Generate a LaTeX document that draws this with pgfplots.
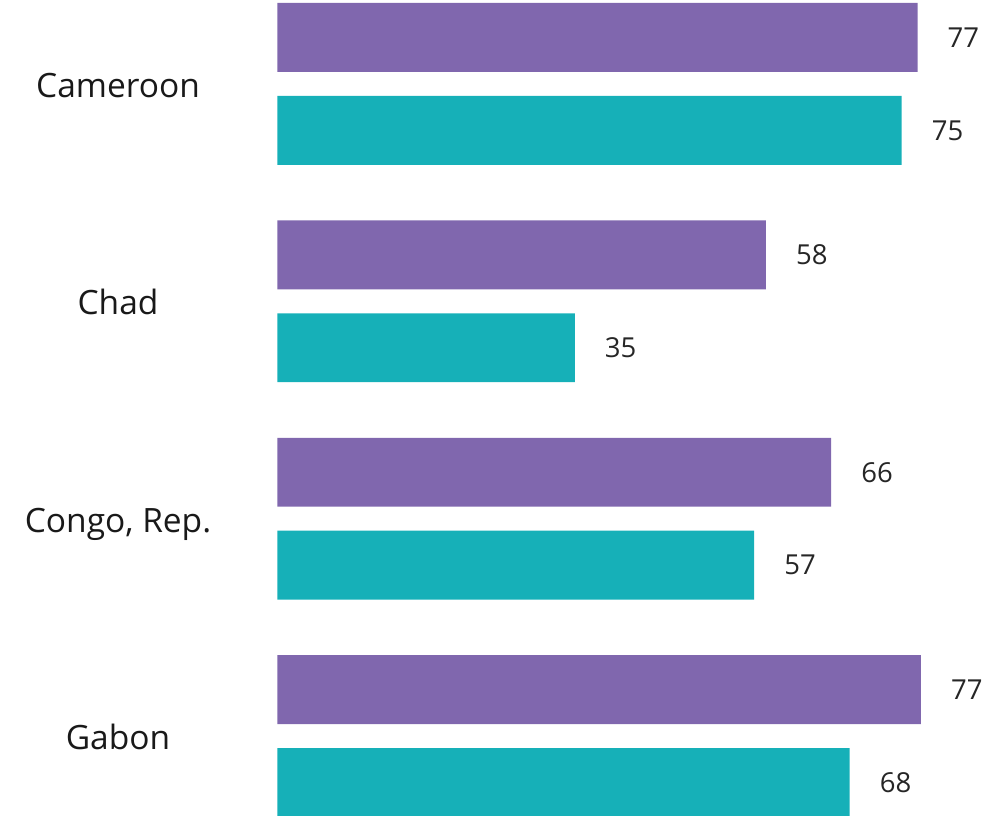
\documentclass[border=0pt]{standalone}
\usepackage{fontspec}
\setmainfont{Open Sans}
\usepackage{pgfplots}
\pgfplotsset{compat=1.18}
\definecolor{barpurple}{HTML}{8067AE}
\definecolor{barteal}{HTML}{16B0B8}
\begin{document}
\begin{tikzpicture}
\begin{axis}[
    scale only axis,
    width=727.7pt, height=815pt,
    xbar,
    bar width=0.317,
    xmin=0, xmax=86.84,
    ymin=-0.363, ymax=3.386,
    axis line style={draw=none},
    tick style={draw=none},
    xtick=\empty,
    ytick={0,1,2,3},
    yticklabels={Gabon, {Congo, Rep.}, Chad, Cameroon},
    yticklabel style={anchor=base, xshift=-155pt, yshift=-13.5pt,
        font=\fontsize{33.5}{40}\selectfont, text=black!90},
    point meta=explicit symbolic,
    nodes near coords,
    nodes near coords style={anchor=west, inner sep=0pt, xshift=30pt,
        font=\fontsize{27.5}{33}\selectfont, text=black!85},
]
\addplot[fill=barpurple, draw=none, bar shift=0.2138] coordinates {
    (76.4,3) [77]
    (58.3,2) [58]
    (66.1,1) [66]
    (76.8,0) [77]
};
\addplot[fill=barteal, draw=none, bar shift=-0.2138] coordinates {
    (74.5,3) [75]
    (35.5,2) [35]
    (56.9,1) [57]
    (68.3,0) [68]
};
\end{axis}
\pgfresetboundingbox
\path (current axis.south west) ++(-277.3pt,0pt) rectangle (current axis.north east);
\end{tikzpicture}
\end{document}
